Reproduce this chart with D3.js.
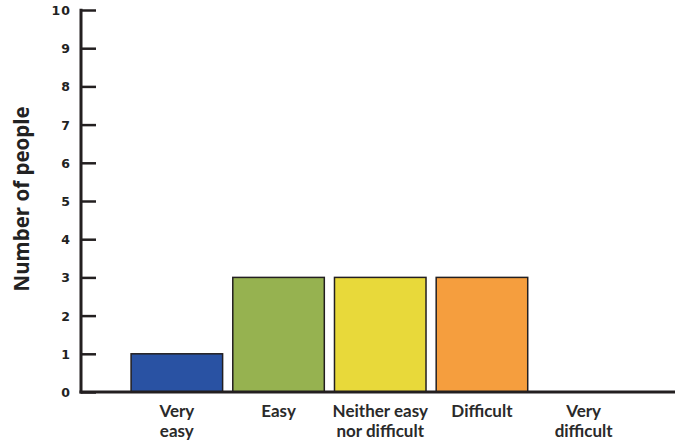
<!DOCTYPE html>
<html><head><meta charset="utf-8">
<script src="https://cdn.jsdelivr.net/npm/d3@7"></script>
<style>body{margin:0;background:#fff}svg{display:block}</style>
</head><body>
<svg id="c" width="675" height="443"></svg>
<script>
const categories = [["Very","easy"],["Easy"],["Neither easy","nor difficult"],["Difficult"],["Very","difficult"]];
const values = [1, 3, 3, 3, 0];
const colors = ["#2952a3", "#96b250", "#e8d93a", "#f59e3e", "#cccccc"];
const yTicks = [0,1,2,3,4,5,6,7,8,9,10];
const yTitle = "Number of people";

const svg = d3.select("#c");
const ink = "#231f20";
const keys = categories.map((c,i)=>i);
const x = d3.scaleBand().domain(keys).range([126, 634.5]).paddingInner(0.1).paddingOuter(0.05);
const y = d3.scaleLinear().domain([0,10]).range([392, 10]);

// bars
svg.selectAll("rect.bar").data(values).join("rect")
  .attr("class","bar")
  .attr("x",(d,i)=>x(i)).attr("width",x.bandwidth())
  .attr("y",d=>y(d)).attr("height",d=>y(0)-y(d))
  .attr("fill",(d,i)=>colors[i])
  .attr("stroke", ink).attr("stroke-width", d=> d>0?1.5:0);

// y axis
const yAxis = d3.axisRight(y).tickValues(yTicks).tickSize(15).tickFormat("");
const ya = svg.append("g").attr("transform","translate(81,0)").call(yAxis);
ya.select(".domain").remove();
ya.selectAll(".tick line").attr("stroke",ink).attr("stroke-width",2.5);
svg.append("line").attr("x1",81).attr("x2",81).attr("y1",y(10)-1.2).attr("y2",y(0)+1.5)
  .attr("stroke",ink).attr("stroke-width",3);
// x axis line
svg.append("line").attr("x1",79.5).attr("x2",675).attr("y1",y(0)).attr("y2",y(0))
  .attr("stroke",ink).attr("stroke-width",3);

// tick labels
svg.selectAll("text.yt").data(yTicks).join("text")
  .attr("class","yt")
  .attr("x",71).attr("y",d=>y(d)+5)
  .attr("text-anchor","end")
  .attr("font-family","DejaVu Sans").attr("font-weight","bold").attr("font-size",12.5)
  .attr("letter-spacing",1)
  .attr("fill","#222")
  .text(d=>d);

// y title
svg.append("text")
  .attr("transform","translate(29,199) rotate(-90)")
  .attr("text-anchor","middle")
  .attr("font-family","Open Sans").attr("font-weight","bold").attr("font-size",20.5)
  .attr("fill","#222")
  .text(yTitle);

// category labels (one text per line)
const lineData = [];
categories.forEach((lines,i)=>lines.forEach((ln,j)=>lineData.push({i,j,ln})));
svg.selectAll("text.cat").data(lineData).join("text")
  .attr("class","cat")
  .attr("text-anchor","middle")
  .attr("x", d=>x(d.i)+x.bandwidth()/2)
  .attr("y", d=>417+d.j*19.5)
  .attr("font-family","Lato").attr("font-weight","bold").attr("font-size",17)
  .attr("fill","#2a2a2a")
  .text(d=>d.ln);
</script>
</body></html>
